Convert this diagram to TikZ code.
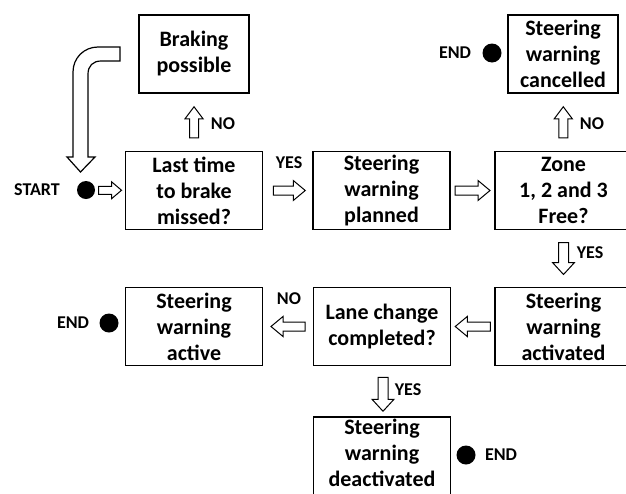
\documentclass[tikz,border=0pt]{standalone}
\usepackage{fontspec}
\setmainfont{Carlito}
\usetikzlibrary{calc}
\tikzset{
  boxtext/.style={inner sep=0pt, align=center, font=\bfseries\fontsize{22}{26}\selectfont},
  box/.style={boxtext, draw, line width=1.3pt, minimum width=137pt, minimum height=78pt},
  sbox/.style={box, minimum width=110pt},
  lbl/.style={font=\bfseries\fontsize{18}{20}\selectfont, inner sep=0pt},
  dot/.style={circle, fill=black, minimum size=19pt, inner sep=0pt},
  arrowline/.style={draw=black, fill=white, line width=1pt, line join=miter},
  pics/blk/.style n args={4}{code={
    \path[arrowline] (-#1/2,-#3/2) -- (#1/2-#4,-#3/2) -- (#1/2-#4,-#2/2) -- (#1/2,0)
      -- (#1/2-#4,#2/2) -- (#1/2-#4,#3/2) -- (-#1/2,#3/2) -- cycle;
  }}
}
\begin{document}
\begin{tikzpicture}[x=1pt,y=-1pt]
\useasboundingbox (0,0) rectangle (626,493);
\clip (0,0) rectangle (626,493);
% boxes
\node[sbox] (brake) at (194,54) {Braking\\possible};
\node[box] (last) at (194,190.5) {Last time\\to brake\\missed?};
\node[box] (planned) at (381.5,190.5) {Steering\\warning\\planned};
\node[box] (zone) at (563.5,190.5) {Zone\\1, 2 and 3\\Free?};
\node[sbox] (cancel) at (563,54) {Steering\\warning\\cancelled};
\node[box] (activated) at (563.5,326.5) {Steering\\warning\\activated};
\node[box] (lane) at (382,326.5) {Lane change\\completed?};
\node[box] (active) at (194,326.5) {Steering\\warning\\active};
\node[box] (deact) at (382,456) {};
\node[boxtext] (deacttext) at ($(deact.center)+(0,-3)$) {Steering\\warning\\deactivated};
% dots and labels
\node[dot, minimum size=18pt] (startdot) at (86,190) {};
\node[lbl] (start) at (37,190) {START};
\node[dot] (end1) at (492,53) {};
\node[lbl] (endl1) at (455,53) {END};
\node[dot] (end2) at (109,323) {};
\node[lbl] (endl2) at (73,323) {END};
\node[dot] (end3) at (466,455) {};
\node[lbl] (endl3) at (501,455) {END};
% block arrows
\pic at ($(startdot.east)!0.5!(last.west)$) {blk={23}{17}{8}{10}};
\pic[rotate=90] at ($(last.north)!0.5!(brake.south)$) {blk={31}{18}{9}{12}};
\pic at ($(last.east)!0.5!(planned.west)+(1.5,0)$) {blk={32}{20}{9}{12}};
\pic at ($(planned.east)!0.5!(zone.west)$) {blk={35}{20}{9}{12}};
\pic[rotate=90] at ($(zone.north)!0.5!(cancel.south)$) {blk={31}{18}{9}{12}};
\pic[rotate=-90] at ($(zone.south)!0.5!(activated.north)$) {blk={32}{22}{10}{12}};
\pic[rotate=180] at ($(activated.west)!0.5!(lane.east)$) {blk={35}{20}{9}{12}};
\pic[rotate=180] at ($(lane.west)!0.5!(active.east)$) {blk={34}{20}{9}{12}};
\pic[rotate=-90] at ($(lane.south)!0.5!(deact.north)+(1,3)$) {blk={34}{22}{10}{12}};
% arrow labels
\node[lbl] (no1) at (223,124) {NO};
\node[lbl] (no2) at (592,124) {NO};
\node[lbl] (no3) at (289,299) {NO};
\node[lbl] (yes1) at (289,163) {YES};
\node[lbl] (yes2) at (590,253) {YES};
\node[lbl] (yes3) at (408,390) {YES};
% return arrow
\path[arrowline, line width=1.2pt] (120,47) -- (98,47) .. controls (84,47) and (73,58) .. (73,72)
  -- (73,157) -- (67,157) -- (80.5,172) -- (95,157) -- (88,157) -- (88,74)
  .. controls (88,66) and (93,61) .. (101,61) -- (120,61) -- cycle;
\end{tikzpicture}
\end{document}
